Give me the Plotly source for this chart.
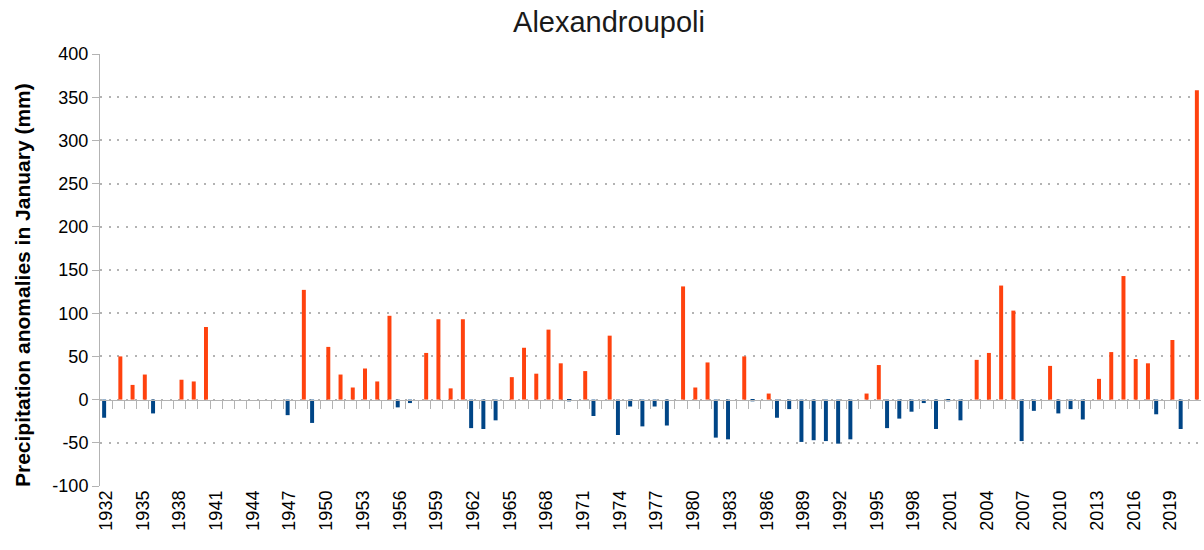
import plotly.graph_objects as go

years = list(range(1932, 2022))
anomalies = [
    -21, 50, 17, 29, -16, None, 23, 21, 84, None,      # 1932-1941
    None, None, None, None, None, -18, 127, -27, 61, 29,  # 1942-1951
    14, 36, 21, 97, -9, -4, 54, 93, 13, 93,            # 1952-1961
    -33, -34, -24, 26, 60, 30, 81, 42, -2, 33,         # 1962-1971
    -19, 74, -41, -8, -31, -8, -30, 131, 14, 43,       # 1972-1981
    -44, -46, 50, -2, 7, -21, -11, -49, -47, -48,      # 1982-1991
    -51, -46, 7, 40, -33, -22, -14, -4, -34, -2,       # 1992-2001
    -24, 46, 54, 132, 103, -48, -13, 39, -16, -11,     # 2002-2011
    -23, 24, 55, 143, 47, 42, -17, 69, -34, 358,       # 2012-2021
]
tick_years = years[::3]
tick_labels = [str(y) for y in tick_years]
y_ticks = list(range(-100, 401, 50))
y_labels = [str(v) for v in y_ticks]

negative = [v if (v is not None and v < 0) else None for v in anomalies]
positive = [v if (v is not None and v > 0) else None for v in anomalies]
boundaries = [y + 0.5 for y in years[:-1]]

BLUE = "#004586"
ORANGE = "#FF420E"
GRAY = "#b3b3b3"
FONT = "Liberation Sans, Arial, sans-serif"

W, H = 1204, 550
ML, MR, MT, MB = 100, 3, 54, 64
PW, PH = W - ML - MR, H - MT - MB

fig = go.Figure()
fig.add_trace(go.Bar(x=years, y=negative, marker=dict(color=BLUE, line=dict(width=0)),
                     name="negative", showlegend=False))
fig.add_trace(go.Bar(x=years, y=positive, marker=dict(color=ORANGE, line=dict(width=0)),
                     name="positive", showlegend=False))
# helper trace so the zero-crossing category axis is drawn
fig.add_trace(go.Scatter(x=[years[0]], y=[None], xaxis="x2", mode="markers",
                         showlegend=False, hoverinfo="skip"))

fig.update_layout(
    width=W, height=H,
    paper_bgcolor="white", plot_bgcolor="white",
    margin=dict(l=ML, r=MR, t=MT, b=MB, autoexpand=False),
    barmode="group", bargap=0.35, bargroupgap=0,
    font=dict(family=FONT, color="black", size=18),
    title=dict(text="Alexandroupoli", x=609 / W, xanchor="center", y=1 - 22 / H,
               yanchor="middle", font=dict(size=29, family=FONT, color="#1a1a1a")),
    xaxis=dict(
        range=[years[0] - 0.5, years[-1] + 0.5],
        tickmode="array", tickvals=tick_years, ticktext=tick_labels,
        tickangle=-90, ticks="", showgrid=False, showline=False, zeroline=False,
        tickfont=dict(size=18, family=FONT, color="black"),
    ),
    xaxis2=dict(
        overlaying="x", anchor="free", position=0.2, side="bottom",
        range=[years[0] - 0.5, years[-1] + 0.5],
        tickmode="array", tickvals=boundaries, showticklabels=False,
        ticks="outside", ticklen=8, tickcolor=GRAY, tickwidth=1,
        showline=True, linecolor=GRAY, linewidth=1,
        showgrid=False, zeroline=False,
    ),
    yaxis=dict(
        range=[-100, 400], tickmode="array", tickvals=y_ticks, ticktext=y_labels,
        showgrid=True, gridcolor=GRAY, gridwidth=1.5, griddash="2px,6.7px",
        showline=True, linecolor=GRAY, linewidth=1,
        ticks="outside", ticklen=7, tickcolor=GRAY,
        zeroline=False, automargin=False,
        tickfont=dict(size=18, family=FONT, color="black"),
    ),
    annotations=[dict(
        text="<b>Precipitation anomalies in January (mm)</b>",
        textangle=-90, xref="paper", yref="paper",
        x=(22 - ML) / PW, y=(H - MB - 285) / PH,
        xanchor="center", yanchor="middle", showarrow=False,
        font=dict(size=21, family=FONT, color="black"),
    )],
)

fig.write_html("out.html", config={"displayModeBar": False},
               post_script="document.body.style.margin='0';document.body.style.overflow='hidden';")
